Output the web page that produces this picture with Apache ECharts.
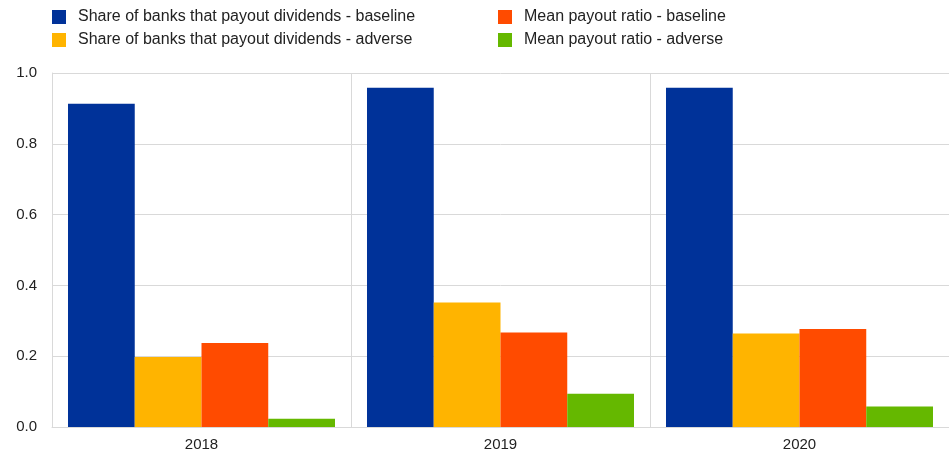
<!DOCTYPE html>
<html>
<head>
<meta charset="utf-8">
<script src="https://cdn.jsdelivr.net/npm/echarts@6/dist/echarts.min.js"></script>
<style>
  html, body { margin: 0; padding: 0; background: #fff; }
  #chart { width: 949px; height: 456px; }
</style>
</head>
<body>
<div id="chart"></div>
<script>
'use strict';

// 数据
var years = ['2018', '2019', '2020'];
var shareBaseline = [0.913, 0.958, 0.958];
var shareAdverse = [0.198, 0.352, 0.264];
var ratioBaseline = [0.237, 0.267, 0.277];
var ratioAdverse = [0.023, 0.094, 0.058];
var yTicks = [0, 0.2, 0.4, 0.6, 0.8, 1.0];

var seriesNames = [
    'Share of banks that payout dividends - baseline',
    'Share of banks that payout dividends - adverse',
    'Mean payout ratio - baseline',
    'Mean payout ratio - adverse'
];
var colors = ['#003299', '#FFB400', '#FF4B00', '#65B800'];

var font = 'Liberation Sans, Arial, sans-serif';

function legendBox(left, names) {
    return {
        orient: 'vertical',
        left: left,
        top: 9,
        padding: 0,
        itemWidth: 14,
        itemHeight: 14,
        itemGap: 7,
        icon: 'rect',
        data: names,
        textStyle: {
            fontFamily: font,
            fontSize: 16,
            lineHeight: 16,
            color: '#222',
            padding: [0, 0, 0, 7]
        }
    };
}

function makeBar(i, values) {
    return {
        name: seriesNames[i],
        type: 'bar',
        data: values,
        barGap: '0%',
        barCategoryGap: '10.7%',
        itemStyle: { color: colors[i] }
    };
}

var myChart = echarts.init(document.getElementById('chart'), null, { renderer: 'canvas' });

var option = {
    animation: false,
    color: colors,
    legend: [
        legendBox(52, [seriesNames[0], seriesNames[1]]),
        legendBox(498, [seriesNames[2], seriesNames[3]])
    ],
    grid: { left: 52, right: 0, top: 73, bottom: 29 },
    xAxis: {
        type: 'category',
        data: years,
        axisLine: { lineStyle: { color: '#d9d9d9', width: 1 } },
        axisTick: { show: false },
        axisLabel: { fontFamily: font, fontSize: 15, color: '#222', margin: 10 },
        splitLine: { show: true, lineStyle: { color: '#d9d9d9', width: 1 } }
    },
    yAxis: {
        type: 'value',
        min: yTicks[0],
        max: yTicks[yTicks.length - 1],
        interval: 0.2,
        axisLine: { show: true, lineStyle: { color: '#d9d9d9', width: 1 } },
        axisTick: { show: false },
        axisLabel: {
            fontFamily: font,
            fontSize: 15,
            color: '#222',
            margin: 15,
            formatter: function(v) { return v.toFixed(1); }
        },
        splitLine: { show: true, lineStyle: { color: '#d9d9d9', width: 1 } }
    },
    series: [
        makeBar(0, shareBaseline),
        makeBar(1, shareAdverse),
        makeBar(2, ratioBaseline),
        makeBar(3, ratioAdverse)
    ]
};

myChart.setOption(option);
</script>
</body>
</html>
